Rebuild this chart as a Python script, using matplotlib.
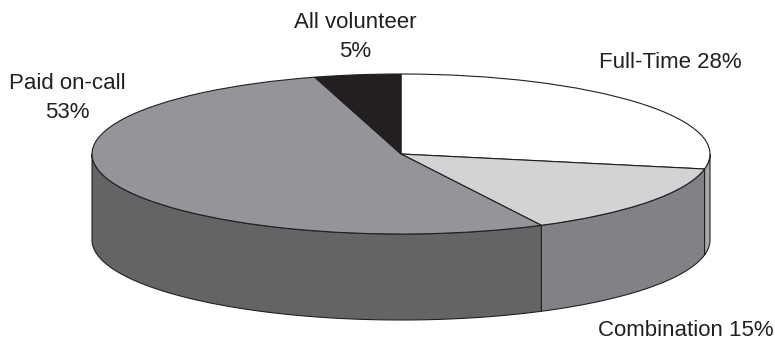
import numpy as np
import matplotlib
matplotlib.use('Agg')
import matplotlib.pyplot as plt
from matplotlib.patches import Polygon

plt.rcParams['font.family'] = ['Liberation Sans', 'DejaVu Sans']

# shares clockwise from 12 o'clock, measured off the slices (labels are rounded)
labels = ['Full-Time 28%', 'Combination 15%', 'Paid on-call\n53%', 'All volunteer\n5%']
values = [28, 14.5, 53, 4.5]
top_colors = ['#ffffff', '#d1d3d4', '#939598', '#231f20']
side_colors = ['#a7a9ac', '#808285', '#636466', '#231f20']
label_px = [(670, 63), (686, 330), (67, 98), (355, 37)]

CX, CY = 401, 154
RX, RY = 309, 80
DEPTH = 86 / RY
EDGE = '#231f20'

fig = plt.figure(figsize=(7.75, 3.41), dpi=100)
ax = fig.add_axes([0, 0, 1, 1])

ax.pie(values, colors=top_colors, startangle=90, counterclock=False, radius=1,
       wedgeprops={'edgecolor': EDGE, 'linewidth': 0.8, 'zorder': 3})
ax.set_aspect('auto')
# unit circle stretched into the ellipse by the axis limits
ax.set_xlim(-CX / RX, (775 - CX) / RX)
ax.set_ylim((CY - 341) / RY, CY / RY)
ax.axis('off')

# side wall, only the front half of the rim shows
edges = np.cumsum([0] + values) / sum(values) * 360
for i, col in enumerate(side_colors):
    a0, a1 = max(edges[i], 90), min(edges[i + 1], 270)
    if a1 <= a0:
        continue
    t = np.radians(np.linspace(a0, a1, 80))
    x, y = np.sin(t), np.cos(t)
    pts = np.r_[np.c_[x, y], np.c_[x[::-1], y[::-1] - DEPTH]]
    ax.add_patch(Polygon(pts, closed=True, facecolor=col, edgecolor=EDGE,
                         linewidth=0.8, zorder=2))

for lab, (px, py) in zip(labels, label_px):
    ax.text(px / 775, 1 - py / 341, lab, transform=ax.transAxes, ha='center',
            va='center', fontsize=16, color='#231f20', linespacing=1.45)

fig.savefig('out.png', dpi=100)
